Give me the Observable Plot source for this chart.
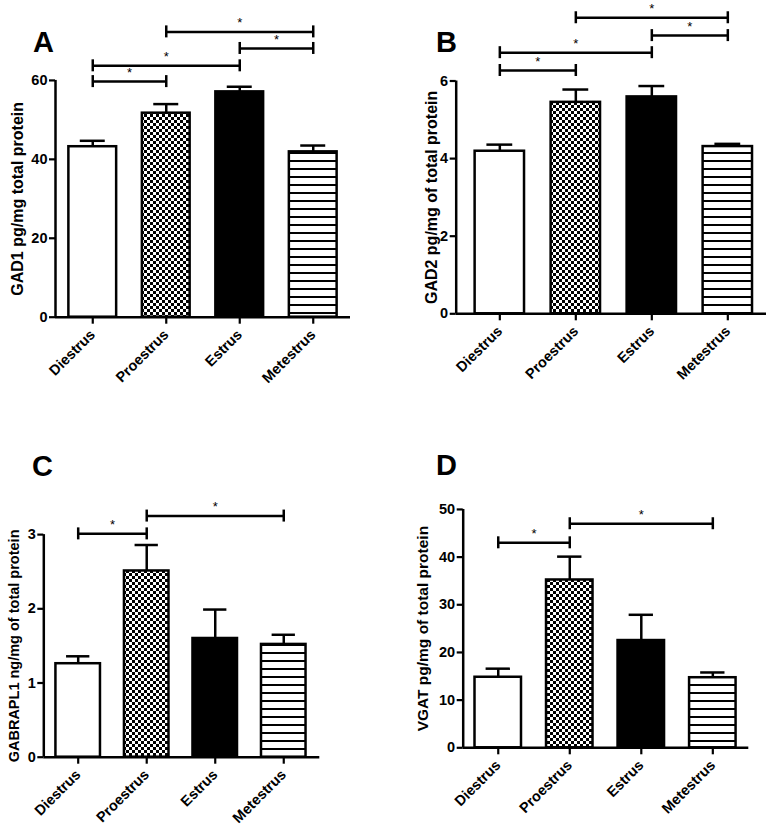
<!DOCTYPE html>
<html>
<head>
<meta charset="utf-8">
<script src="https://cdn.jsdelivr.net/npm/d3@7"></script>
<script src="https://cdn.jsdelivr.net/npm/@observablehq/plot@0.6"></script>
<style>
html, body { margin: 0; padding: 0; background: #fff; }
#wrap { position: relative; width: 776px; height: 832px; overflow: hidden; font-family: "Liberation Sans", Arial, sans-serif; }
.panel { position: absolute; }
.letter { position: absolute; font-weight: bold; font-size: 29px; line-height: 29px; color: #000; }
</style>
</head>
<body>
<div id="wrap"></div>
<script>
// ---------- data ----------
const categories = ["Diestrus", "Proestrus", "Estrus", "Metestrus"];

const gad1Mean = [43.2, 51.7, 57.1, 41.9];
const gad1Sem  = [1.5, 2.3, 1.3, 1.6];
const gad1Ticks = [0, 20, 40, 60];
const gad1Sig = [[0, 1, 59.7], [0, 2, 63.7], [2, 3, 68.1], [1, 3, 72.3]];

const gad2Mean = [4.19, 5.45, 5.59, 4.31];
const gad2Sem  = [0.17, 0.33, 0.28, 0.07];
const gad2Ticks = [0, 2, 4, 6];
const gad2Sig = [[0, 1, 6.27], [0, 2, 6.73], [2, 3, 7.17], [1, 3, 7.63]];

const gabaMean = [1.26, 2.51, 1.60, 1.52];
const gabaSem  = [0.10, 0.35, 0.39, 0.13];
const gabaTicks = [0, 1, 2, 3];
const gabaSig = [[0, 1, 3.01], [1, 3, 3.25]];

const vgatMean = [14.8, 35.2, 22.5, 14.7];
const vgatSem  = [1.8, 4.9, 5.4, 1.1];
const vgatTicks = [0, 10, 20, 30, 40, 50];
const vgatSig = [[0, 1, 43.0], [1, 3, 47.0]];

// ---------- layout / style ----------
const HALF = 0.325, CAP = 0.17, SW = 2.5;
const FONT = "Liberation Sans, Arial, sans-serif";
const TICKFONT = 14.5;

function makePanel(id, L, means, sems, sig, yTicks, yLabel, letter) {
  const rows = categories.map((c, i) => ({i, c, mean: means[i], top: means[i] + sems[i]}));
  const br = sig.map(([a, b, level]) => ({a, b, level, mid: (a + b) / 2}));
  const fills = ["white", `url(#chk-${id})`, "black", `url(#str-${id})`];
  const yTop = yTicks[yTicks.length - 1];
  const svg = Plot.plot({
    width: L.width, height: L.height,
    marginLeft: L.ml, marginRight: L.mr, marginTop: L.mt, marginBottom: L.mb,
    x: {type: "linear", domain: L.xDomain},
    y: {type: "linear", domain: L.yDomain},
    color: {type: "ordinal", domain: categories, range: fills},
    style: {fontFamily: FONT, fontWeight: "bold", fontSize: TICKFONT + "px", color: "black", background: "white", overflow: "visible"},
    marks: [
      Plot.ruleX(rows, {x: "i", y1: "mean", y2: "top", strokeWidth: SW}),
      Plot.ruleY(rows, {y: "top", x1: d => d.i - CAP, x2: d => d.i + CAP, strokeWidth: SW}),
      Plot.rect(rows, {x1: d => d.i - HALF, x2: d => d.i + HALF, y1: () => 0, y2: "mean", fill: "c", stroke: "black", strokeWidth: SW}),
      Plot.ruleY([0], {strokeWidth: SW}),
      Plot.ruleX([L.xDomain[0]], {y1: () => 0, y2: () => yTop, strokeWidth: SW}),
      Plot.axisY({ticks: yTicks, tickFormat: d => String(d), tickSize: 6, tickPadding: 2, strokeWidth: 2.2, label: null, fontSize: TICKFONT}),
      Plot.axisX({ticks: [0, 1, 2, 3], tickFormat: i => categories[i], tickRotate: -45, tickSize: 7, tickPadding: 8, strokeWidth: 2.2, label: null, fontSize: TICKFONT}),
      Plot.ruleY(br, {y: "level", x1: "a", x2: "b", strokeWidth: SW}),
      Plot.ruleX(br, {x: "a", y1: "level", y2: "level", insetTop: -6, insetBottom: -6, strokeWidth: SW}),
      Plot.ruleX(br, {x: "b", y1: "level", y2: "level", insetTop: -6, insetBottom: -6, strokeWidth: SW}),
      Plot.text(br, {x: "mid", y: "level", text: () => "*", dy: -9, fontSize: 13, fontWeight: "normal"}),
      Plot.text([yLabel], {frameAnchor: "left", textAnchor: "middle", y: () => L.labelValue, dx: L.labelDx, rotate: -90, fontSize: L.labelSize, text: d => d})
    ]
  });
  const defs = d3.select(svg).insert("defs", ":first-child");
  const chk = defs.append("pattern").attr("id", `chk-${id}`).attr("patternUnits", "userSpaceOnUse")
    .attr("width", 6).attr("height", 6);
  chk.append("rect").attr("width", 6).attr("height", 6).attr("fill", "white");
  chk.append("rect").attr("width", 3).attr("height", 3).attr("fill", "black");
  chk.append("rect").attr("x", 3).attr("y", 3).attr("width", 3).attr("height", 3).attr("fill", "black");
  const st = defs.append("pattern").attr("id", `str-${id}`).attr("patternUnits", "userSpaceOnUse")
    .attr("width", 8).attr("height", 8);
  st.append("rect").attr("width", 8).attr("height", 8).attr("fill", "white");
  st.append("rect").attr("y", 0).attr("width", 8).attr("height", 2).attr("fill", "black");

  const div = document.createElement("div");
  div.className = "panel";
  div.style.left = L.left + "px";
  div.style.top = L.top + "px";
  div.style.width = L.width + "px";
  div.style.height = L.height + "px";
  div.appendChild(svg);
  document.getElementById("wrap").appendChild(div);

  const lt = document.createElement("div");
  lt.className = "letter";
  lt.textContent = letter;
  lt.style.left = L.letterX + "px";
  lt.style.top = L.letterY + "px";
  document.getElementById("wrap").appendChild(lt);
}

makePanel("A", {left: 0, top: 0, width: 388, height: 400, ml: 55, mr: 38, mt: 1, mb: 83.3,
  xDomain: [-0.507, 3.507], yDomain: [0, 80], labelValue: 30, labelDx: -37.5, labelSize: 16,
  letterX: 33, letterY: 27.5},
  gad1Mean, gad1Sem, gad1Sig, gad1Ticks, "GAD1 pg/mg total protein", "A");

makePanel("B", {left: 388, top: 0, width: 388, height: 400, ml: 67.7, mr: 10, mt: 2.9, mb: 86.7,
  xDomain: [-0.574, 3.509], yDomain: [0, 8], labelValue: 3, labelDx: -24, labelSize: 16,
  letterX: 436, letterY: 27.5},
  gad2Mean, gad2Sem, gad2Sig, gad2Ticks, "GAD2 pg/mg of total protein", "B");

makePanel("C", {left: 0, top: 420, width: 388, height: 412, ml: 43.3, mr: 68.7, mt: 69.6, mb: 75.3,
  xDomain: [-0.502, 3.526], yDomain: [0, 3.6], labelValue: 1.5, labelDx: -29.2, labelSize: 14.5,
  letterX: 32, letterY: 451.5},
  gabaMean, gabaSem, gabaSig, gabaTicks, "GABRAPL1 ng/mg of total protein", "C");

makePanel("D", {left: 388, top: 420, width: 388, height: 412, ml: 74.7, mr: 27.7, mt: 65.1, mb: 84.7,
  xDomain: [-0.49, 3.503], yDomain: [0, 55], labelValue: 25, labelDx: -40.3, labelSize: 15.5,
  letterX: 436, letterY: 450.5},
  vgatMean, vgatSem, vgatSig, vgatTicks, "VGAT pg/mg of total protein", "D");
</script>
</body>
</html>
